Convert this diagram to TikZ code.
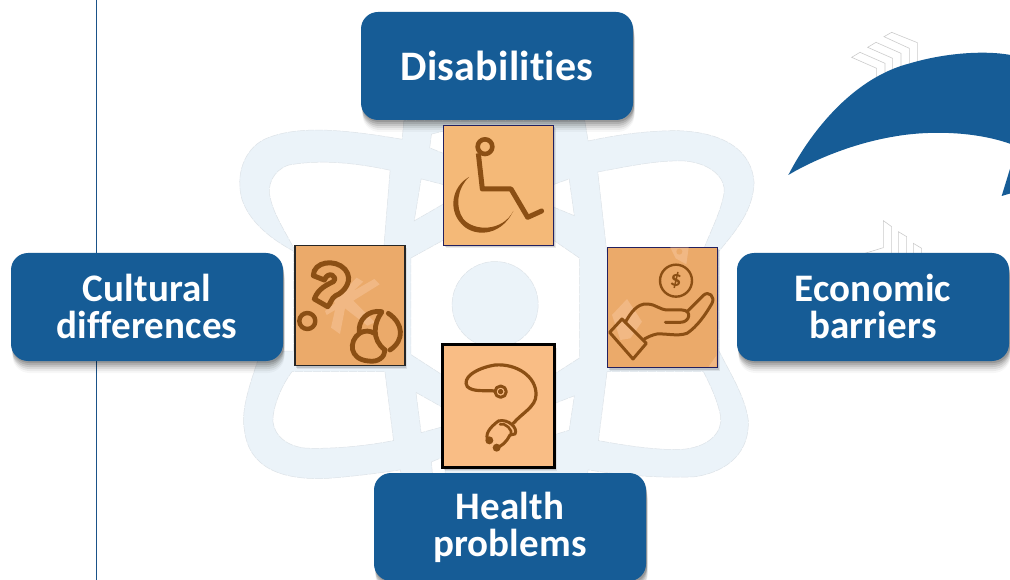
\documentclass[tikz,border=0pt]{standalone}
\usepackage{fontspec}
\setmainfont{Carlito}[Ligatures=NoCommon,LetterSpace=0.4]
\usetikzlibrary{shadows}
\definecolor{bluebox}{HTML}{165C96}
\definecolor{rulec}{HTML}{1A5288}
\definecolor{atomc}{HTML}{EBF3F9}
\definecolor{atomedge}{HTML}{DDE3E8}
\definecolor{brownic}{HTML}{8B4F14}
\definecolor{orA}{HTML}{F4B978}
\definecolor{orB}{HTML}{EBAA6A}
\definecolor{orC}{HTML}{F9BD85}
\definecolor{navyb}{HTML}{23205F}
\definecolor{water}{HTML}{F1B884}
\tikzset{
  softshadow/.style={
    general shadow={shadow xshift=1.5pt,shadow yshift=-12pt,fill=black,opacity=.03},
    general shadow={shadow xshift=1.5pt,shadow yshift=-10pt,fill=black,opacity=.05},
    general shadow={shadow xshift=1.5pt,shadow yshift=-8pt,fill=black,opacity=.07},
    general shadow={shadow xshift=1pt,shadow yshift=-6pt,fill=black,opacity=.09},
    general shadow={shadow xshift=1pt,shadow yshift=-4pt,fill=black,opacity=.11},
    general shadow={shadow xshift=1pt,shadow yshift=-2pt,fill=black,opacity=.13}},
  iconshadow/.style={
    general shadow={shadow xshift=2pt,shadow yshift=-3pt,fill=black,opacity=.08},
    general shadow={shadow xshift=1pt,shadow yshift=-2pt,fill=black,opacity=.12}},
  label box/.style={softshadow,fill=bluebox,rounded corners=17pt,minimum width=272pt,minimum height=108pt,
    text=white,font=\fontsize{39}{37}\selectfont\bfseries,align=center,inner sep=0pt},
  icon box/.style={iconshadow,inner sep=0pt},
  ic/.style={draw=brownic,line cap=round,line join=round},
  zoomthree/.style={x=1pt/3,y=-1pt/3},
  chev/.style={draw=black!20,line width=.6pt,fill=white}
}
\begin{document}
\begin{tikzpicture}[x=1pt,y=-1pt]
\useasboundingbox (0,0) rectangle (1010,580);
\fill[white] (0,0) rectangle (1010,580);
% vertical rule
\coordinate (ruleA) at (96.9,0);
\coordinate (ruleB) at (96.9,580);
\draw[rulec,line width=1.1pt] (ruleA) -- (ruleB);
% chevrons
\begin{scope}[shift={(770,20)},zoomthree]
\draw[chev] (342,50)--(365,37)--(442,68)--(442,150)--(418,150)--(418,85)--cycle;
\draw[chev] (293,82)--(318,67)--(393,100)--(393,170)--(368,170)--(368,115)--cycle;
\draw[chev] (245,112)--(270,97)--(345,130)--(345,190)--(320,190)--(320,145)--cycle;
\draw[chev] (430,720)--(430,670)--(455,685)--(455,720);
\draw[chev] (385,720)--(385,635)--(410,650)--(410,720);
\draw[chev] (285,700)--(340,683)--(340,602)--(365,620)--(365,720);
% arc
\fill[bluebox] (55,465) .. controls (130,320) and (260,170) .. (420,130) .. controls (520,100) and (640,90) .. (722,105)
  -- (722,372) .. controls (620,335) and (480,330) .. (370,350) .. controls (250,370) and (130,420) .. (55,465) -- cycle;
\fill[bluebox] (722,440) -- (695,528) -- (722,520) -- cycle;
\end{scope}
% atom
\begin{scope}[shift={(230,110)},x=1pt/2.904,y=-1pt/2.904]
\path[fill=atomc,draw=atomedge,line width=.5pt,dash pattern=on 8pt off 1pt,even odd rule]
 (505,30) -- (500,85) .. controls (350,60) and (200,40) .. (100,85) .. controls (40,115) and (15,190) .. (35,260)
   .. controls (55,320) and (110,370) .. (185,410) -- (185,700) -- (90,700) .. controls (60,790) and (30,870) .. (42,930)
   .. controls (55,1040) and (150,1075) .. (280,1070) .. controls (350,1065) and (430,1055) .. (495,1045) -- (505,1110)
   -- (1030,1110) -- (1040,1045) .. controls (1130,1060) and (1250,1070) .. (1350,1065) .. controls (1450,1050) and (1510,990) .. (1505,900)
   .. controls (1495,830) and (1450,760) .. (1420,700) -- (1420,410) .. controls (1470,350) and (1520,290) .. (1522,210)
   .. controls (1515,120) and (1440,65) .. (1300,60) .. controls (1200,60) and (1110,75) .. (1040,90) -- (1030,30) -- cycle
 (465,175) .. controls (350,150) and (250,145) .. (170,160) .. controls (125,175) and (105,220) .. (118,260) .. controls (130,310) and (165,360) .. (195,420) -- (445,420) -- cycle
 (1068,180) .. controls (1150,165) and (1240,145) .. (1320,148) .. controls (1400,155) and (1440,200) .. (1435,240) .. controls (1425,300) and (1395,350) .. (1370,420) -- (1095,420) -- cycle
 (450,760) -- (475,960) .. controls (400,975) and (300,985) .. (220,982) .. controls (150,975) and (120,930) .. (125,890) .. controls (130,850) and (150,800) .. (180,760) -- cycle
 (1095,760) -- (1070,960) .. controls (1150,975) and (1250,990) .. (1320,985) .. controls (1400,975) and (1430,930) .. (1425,890) .. controls (1415,840) and (1395,800) .. (1375,760) -- cycle
 (525,430) -- (625,375) -- (935,375) -- (1015,430) -- (1015,720) -- (945,765) -- (610,765) -- (525,710) -- cycle
 (555,200) -- (625,218) -- (625,270) -- (535,322) -- cycle
 (935,218) -- (985,200) -- (1000,307) -- (935,280) -- cycle
 (585,70) -- (625,60) -- (625,128) -- (580,110) -- cycle
 (540,820) -- (625,868) -- (625,918) -- (555,937) -- cycle
 (935,855) -- (1000,830) -- (985,930) -- (935,945) -- cycle
 (585,1022) -- (625,1005) -- (625,1085) -- (590,1085) -- cycle
 (770,565) circle[radius=125];
\end{scope}
% label boxes
\node[label box,font=\fontsize{42}{37}\selectfont\bfseries] (dis) at (497,66) {\raisebox{-2pt}{Disabilities}};
\node[label box] (cul) at (147,307) {\raisebox{1.5pt}{Cultural}\\\raisebox{1.5pt}{differences}};
\node[label box] (eco) at (873,307) {\raisebox{1.5pt}{Economic}\\\raisebox{1.5pt}{barriers}};
\node[label box] (hea) at (510,527) {\raisebox{-1pt}{Health}\\\raisebox{-1pt}{problems}};
% icon boxes
\node[icon box,fill=orA,draw=navyb,line width=1.4pt,minimum width=110pt,minimum height=120pt] (wheel) at (498.5,185.5) {};
\node[icon box,fill=orB,draw=black!85,line width=1.4pt,minimum width=110pt,minimum height=120pt] (cult) at (350,305.5) {};
\node[icon box,fill=orB,draw=navyb,line width=1.4pt,minimum width=110pt,minimum height=120pt] (hand) at (662.5,307.5) {};
\node[icon box,fill=orC,draw=black,line width=2.4pt,minimum width=112pt,minimum height=123pt] (steth) at (498.5,406) {};
% wheelchair
\begin{scope}[shift={(430,115)},zoomthree]
\draw[ic,line width=4.6pt] (165,95) circle[radius=22];
\draw[ic,line width=5pt,line cap=butt] (145,115) -- (157,222) -- (243,222) -- (293,307);
\draw[ic,line width=5pt] (293,307) -- (335,288);
\fill[brownic] (117,186) .. controls (65,215) and (55,285) .. (93,325) .. controls (125,365) and (210,370) .. (250,288)
  .. controls (218,350) and (132,350) .. (100,312) .. controls (74,275) and (82,220) .. (117,186) -- cycle;
\end{scope}
% cultural icon
\begin{scope}[shift={(285,235)},zoomthree]
\fill[water] (268,132) -- (284,148) -- (205,197) -- (270,262) -- (247,272) -- (180,220) -- (165,297) -- (138,278) -- (150,225) -- (125,240) -- (120,228) -- (150,205) -- (142,190) -- (165,180) -- (215,128) -- (235,140) -- (205,168) -- cycle;
\draw[ic,line width=5pt] (85,122) .. controls (85,80) and (150,70) .. (180,103) .. controls (207,135) and (178,172) .. (152,182)
   .. controls (138,190) and (138,205) .. (128,215) -- (88,192) .. controls (100,160) and (125,150) .. (145,140) .. controls (160,125) and (130,105) .. (118,135) -- cycle;
\draw[ic,line width=4.4pt] (67,258) circle[radius=24];
\end{scope}
\begin{scope}[shift={(340,300)},zoomthree]
\draw[ic,line width=4.8pt] (125,35) .. controls (85,28) and (52,60) .. (58,100) .. controls (25,125) and (28,178) .. (85,183) .. controls (115,188) and (135,170) .. (135,150);
\draw[ic,line width=4.8pt] (125,37) .. controls (100,70) and (95,120) .. (135,150);
\draw[ic,line width=4.8pt] (145,40) .. controls (190,70) and (195,120) .. (150,150);
\draw[ic,line width=4.8pt] (58,100) .. controls (75,90) and (90,92) .. (103,100);
\end{scope}
% hand icon
\begin{scope}[shift={(597,235)},zoomthree]
\fill[water] (220,38) -- (275,38) -- (268,88) -- (236,70) -- cycle;
\fill[orB] (247,50) circle[radius=9];
\fill[water] (45,240) -- (90,192) -- (135,260) -- (100,310) -- (70,315) -- cycle;
\fill[water] (335,395) -- (358,362) -- (358,395) -- cycle;
\draw[ic,line width=2.4pt] (237,137) circle[radius=48];
\node[text=brownic,font=\fontsize{22}{22}\selectfont\bfseries,rotate=-8] (dollar) at (237,137) {\$};
\draw[ic,line width=3pt] (38,292) -- (75,252) -- (148,325) -- (108,372) -- cycle;
\draw[ic,line width=3pt] (85,262) .. controls (100,235) and (120,205) .. (150,207) .. controls (180,208) and (185,225) .. (215,225) -- (255,225) .. controls (285,225) and (280,262) .. (250,262) -- (205,262);
\draw[ic,line width=3pt] (272,228) -- (318,182) .. controls (335,165) and (355,185) .. (345,205) .. controls (325,240) and (300,275) .. (270,295) .. controls (240,305) and (210,295) .. (180,297) .. controls (165,300) and (155,305) .. (142,312);
\end{scope}
% stethoscope icon
\begin{scope}[shift={(430,335)},zoomthree]
\draw[ic,line width=3pt] (212,170) circle[radius=17];
\draw[ic,line width=2.4pt] (212,170) circle[radius=5];
\draw[ic,line width=3.2pt] (195,168) .. controls (165,165) and (130,172) .. (112,155) .. controls (95,130) and (135,100) .. (195,90)
   .. controls (260,85) and (320,125) .. (318,180) .. controls (318,215) and (275,235) .. (250,265);
\draw[ic,line width=3pt] (205,258) .. controls (235,250) and (265,280) .. (255,297) -- (240,300);
\draw[ic,line width=2.6pt] (210,268) .. controls (225,262) and (250,285) .. (243,300);
\draw[ic,line width=3pt] (205,258) .. controls (190,270) and (165,290) .. (172,312);
\draw[ic,line width=3pt] (240,300) .. controls (230,320) and (215,335) .. (200,337);
\fill[brownic] (178,316) circle[radius=12];
\fill[brownic] (200,338) circle[radius=12];
\end{scope}
\end{tikzpicture}
\end{document}
